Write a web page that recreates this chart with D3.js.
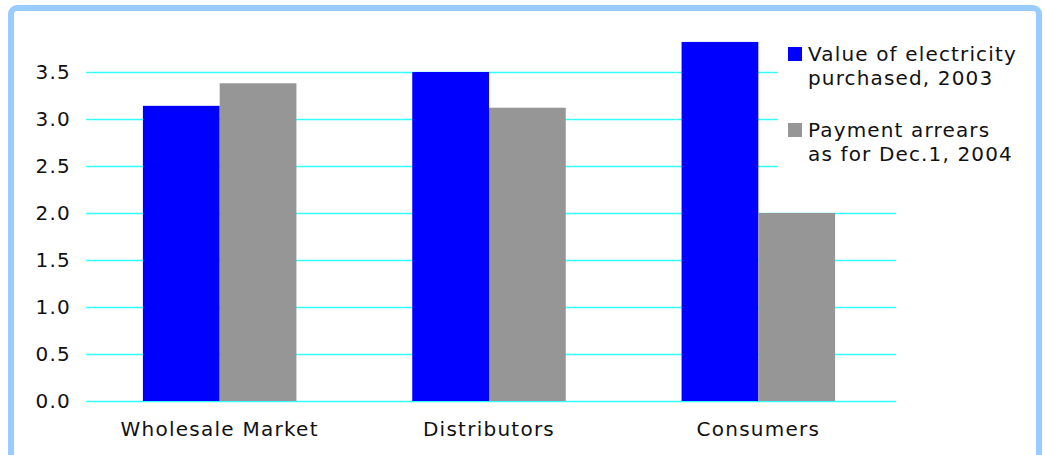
<!DOCTYPE html>
<html>
<head>
<meta charset="utf-8">
<script src="https://cdn.jsdelivr.net/npm/d3@7"></script>
<style>
  html, body { margin: 0; padding: 0; background: #fff; }
  svg text { font-family: "DejaVu Sans", Verdana, sans-serif; fill: #111; }
</style>
</head>
<body>
<svg id="chart" width="1045" height="455"></svg>
<script>
// Electricity purchases vs. payment arrears by market segment
const categories = ["Wholesale Market", "Distributors", "Consumers"];
const seriesNames = ["Value of electricity\npurchased, 2003", "Payment arrears\nas for Dec.1, 2004"];
const valuePurchased = [3.14, 3.50, 3.82];
const paymentArrears = [3.38, 3.12, 2.00];
const yTicks = [0, 0.5, 1.0, 1.5, 2.0, 2.5, 3.0, 3.5];
const colors = ["#0000ff", "#969696"];

const series = [valuePurchased, paymentArrears];

const svg = d3.select("#chart");

// frame
svg.append("rect")
  .attr("x", 11).attr("y", 8)
  .attr("width", 1028).attr("height", 470)
  .attr("rx", 6)
  .attr("fill", "#fff")
  .attr("stroke", "#99ccff")
  .attr("stroke-width", 6);

const plot = { left: 86, right: 896, top: 25, bottom: 401 };

const y = d3.scaleLinear().domain([0, 4]).range([plot.bottom, plot.bottom - 94 * 4]);
const x0 = d3.scaleBand().domain(categories).range([plot.left - 1, plot.right - 3]).paddingInner(0.43).paddingOuter(0.215);
const x1 = d3.scaleBand().domain(d3.range(series.length)).range([0, x0.bandwidth()]);

// gridlines
const grid = svg.append("g").attr("transform", `translate(${plot.left},0)`)
  .call(d3.axisLeft(y).tickValues(yTicks).tickSize(-(plot.right - plot.left)).tickFormat(""));
grid.select(".domain").remove();
grid.selectAll(".tick line").attr("stroke", "#33ffff").attr("stroke-width", 1.5);

// y labels
const yAxis = svg.append("g").attr("transform", `translate(${plot.left},0)`)
  .call(d3.axisLeft(y).tickValues(yTicks).tickSize(0).tickPadding(15).tickFormat(d3.format(".1f")));
yAxis.select(".domain").remove();
yAxis.selectAll("text").attr("font-size", 20).style("letter-spacing", "1.2px");

// bars
const groups = svg.append("g").selectAll("g").data(categories).join("g")
  .attr("transform", d => `translate(${x0(d)},0)`);
groups.selectAll("rect")
  .data((d, i) => series.map((s, k) => ({ k, v: s[i] })))
  .join("rect")
  .attr("x", d => x1(d.k))
  .attr("width", x1.bandwidth())
  .attr("y", d => y(d.v))
  .attr("height", d => y(0) - y(d.v))
  .attr("fill", d => colors[d.k]);

// category labels
const xAxis = svg.append("g").attr("transform", `translate(0,${plot.bottom})`)
  .call(d3.axisBottom(x0).tickSize(0).tickPadding(21));
xAxis.select(".domain").remove();
xAxis.selectAll("text").attr("font-size", 20).style("letter-spacing", "1.25px");

// legend
const legend = svg.append("g");
legend.append("rect").attr("x", 778).attr("y", 22).attr("width", 258).attr("height", 170).attr("fill", "#fff");
const items = legend.selectAll("g.item").data(seriesNames).join("g")
  .attr("class", "item")
  .attr("transform", (d, i) => `translate(788,${47 + i * 76})`);
items.append("rect").attr("width", 14).attr("height", 14).attr("fill", (d, i) => colors[i]);
items.append("text")
  .attr("x", 20).attr("y", 14)
  .attr("font-size", 20)
  .style("letter-spacing", "1.15px")
  .selectAll("tspan")
  .data(d => d.split("\n"))
  .join("tspan")
  .attr("x", 20)
  .attr("dy", (d, i) => i === 0 ? 0 : 24)
  .text(d => d);
</script>
</body>
</html>
